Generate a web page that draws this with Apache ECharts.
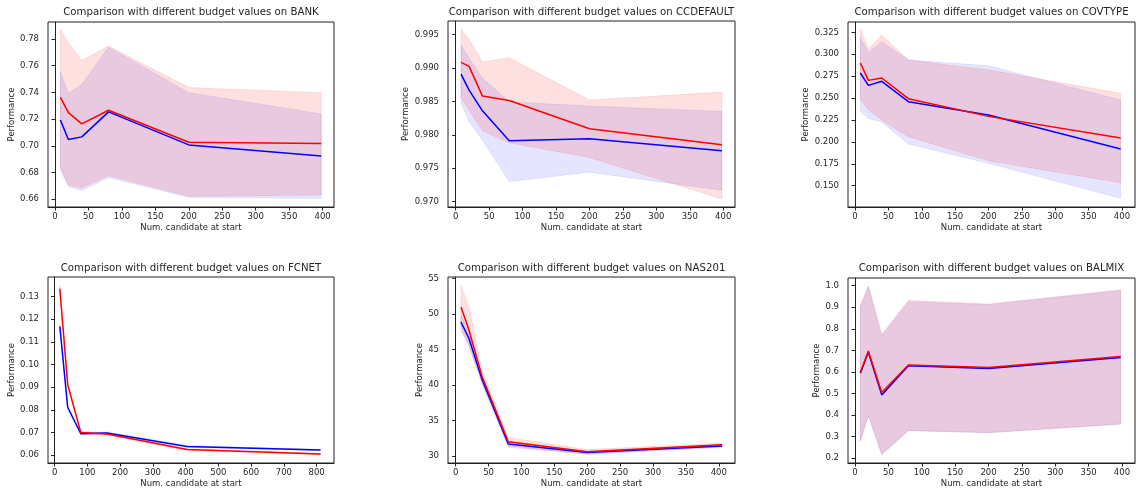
<!DOCTYPE html>
<html>
<head>
<meta charset="utf-8">
<script src="https://cdn.jsdelivr.net/npm/echarts@6/dist/echarts.min.js"></script>
<style>
html, body { margin: 0; padding: 0; background: #fff; }
#chart { width: 1136px; height: 490px; }
</style>
</head>
<body>
<div id="chart"></div>
<script>
// ---- data ----
var names = ['BANK', 'CCDEFAULT', 'COVTYPE', 'FCNET', 'NAS201', 'BALMIX'];

var bankX = [8, 20, 40, 80, 200, 398];
var bankRed = [0.7363, 0.7249, 0.7164, 0.7266, 0.7027, 0.7017];
var bankRedLo = [0.6835, 0.6707, 0.6687, 0.6777, 0.6622, 0.6632];
var bankRedHi = [0.7872, 0.7770, 0.7638, 0.7748, 0.7436, 0.7398];
var bankBlue = [0.7194, 0.7047, 0.7067, 0.7254, 0.7007, 0.6924];
var bankBlueLo = [0.6820, 0.6695, 0.6665, 0.6762, 0.6615, 0.6607];
var bankBlueHi = [0.7555, 0.7393, 0.7460, 0.7738, 0.7398, 0.7239];

var ccX = [8, 20, 40, 80, 200, 398];
var ccRed = [0.99085, 0.99025, 0.9858, 0.98515, 0.9809, 0.9785];
var ccRedLo = [0.9856, 0.9837, 0.9806, 0.9788, 0.9766, 0.9704];
var ccRedHi = [0.9958, 0.99435, 0.9909, 0.99155, 0.9852, 0.9864];
var ccBlue = [0.9891, 0.9867, 0.9836, 0.9791, 0.9794, 0.9776];
var ccBlueLo = [0.9848, 0.9820, 0.9792, 0.9730, 0.9744, 0.9717];
var ccBlueHi = [0.99345, 0.99145, 0.9885, 0.98495, 0.9843, 0.9835];

var covX = [8, 20, 40, 80, 200, 398];
var covRed = [0.2900, 0.2702, 0.2729, 0.2493, 0.2291, 0.2044];
var covRedLo = [0.2489, 0.2364, 0.2250, 0.2060, 0.1785, 0.1534];
var covRedHi = [0.3288, 0.3056, 0.3220, 0.2934, 0.2820, 0.2554];
var covBlue = [0.2786, 0.2645, 0.2691, 0.2459, 0.2307, 0.1919];
var covBlueLo = [0.2352, 0.2268, 0.2227, 0.1976, 0.1755, 0.1356];
var covBlueHi = [0.3193, 0.3022, 0.3140, 0.2934, 0.2870, 0.2478];

var fcX = [16, 40, 80, 160, 404, 812];
var fcRed = [0.1335, 0.0911, 0.0700, 0.0693, 0.0624, 0.0604];
var fcRedLo = [0.1320, 0.0902, 0.0695, 0.0688, 0.0620, 0.0601];
var fcRedHi = [0.1350, 0.0920, 0.0705, 0.0698, 0.0628, 0.0607];
var fcBlue = [0.1169, 0.0811, 0.0694, 0.0697, 0.0638, 0.0622];
var fcBlueLo = [0.1160, 0.0804, 0.0689, 0.0692, 0.0634, 0.0619];
var fcBlueHi = [0.1178, 0.0818, 0.0699, 0.0702, 0.0642, 0.0625];

var nasX = [8, 20, 40, 80, 200, 405];
var nasRed = [51.0, 47.8, 41.2, 32.0, 30.6, 31.6];
var nasRedLo = [48.2, 45.5, 40.3, 31.2, 30.3, 31.3];
var nasRedHi = [54.1, 51.0, 42.0, 32.6, 30.9, 31.8];
var nasBlue = [48.9, 46.6, 40.8, 31.7, 30.5, 31.4];
var nasBlueLo = [47.6, 45.6, 40.2, 31.4, 30.2, 31.2];
var nasBlueHi = [49.9, 47.3, 41.2, 32.0, 30.7, 31.6];

var balX = [8, 20, 40, 80, 200, 398];
var balRed = [0.597, 0.697, 0.504, 0.632, 0.620, 0.671];
var balRedLo = [0.280, 0.398, 0.218, 0.328, 0.318, 0.358];
var balRedHi = [0.906, 1.000, 0.775, 0.932, 0.915, 0.981];
var balBlue = [0.594, 0.691, 0.493, 0.628, 0.615, 0.667];
var balBlueLo = [0.277, 0.396, 0.215, 0.327, 0.317, 0.357];
var balBlueHi = [0.903, 0.995, 0.768, 0.926, 0.912, 0.978];

// tick labels
var xTicks400 = [0, 50, 100, 150, 200, 250, 300, 350, 400];
var xTicks800 = [0, 100, 200, 300, 400, 500, 600, 700, 800];
var bankTicks = [0.66, 0.68, 0.70, 0.72, 0.74, 0.76, 0.78];
var ccTicks = [0.970, 0.975, 0.980, 0.985, 0.990, 0.995];
var covTicks = [0.150, 0.175, 0.200, 0.225, 0.250, 0.275, 0.300, 0.325];
var fcTicks = [0.06, 0.07, 0.08, 0.09, 0.10, 0.11, 0.12, 0.13];
var nasTicks = [30, 35, 40, 45, 50, 55];
var balTicks = [0.2, 0.3, 0.4, 0.5, 0.6, 0.7, 0.8, 0.9, 1.0];

// ---- layout ----
var panels = [
  { x: bankX, r: bankRed, rlo: bankRedLo, rhi: bankRedHi, b: bankBlue, blo: bankBlueLo, bhi: bankBlueHi, xt: xTicks400, yt: bankTicks, dec: 2 },
  { x: ccX, r: ccRed, rlo: ccRedLo, rhi: ccRedHi, b: ccBlue, blo: ccBlueLo, bhi: ccBlueHi, xt: xTicks400, yt: ccTicks, dec: 3 },
  { x: covX, r: covRed, rlo: covRedLo, rhi: covRedHi, b: covBlue, blo: covBlueLo, bhi: covBlueHi, xt: xTicks400, yt: covTicks, dec: 3 },
  { x: fcX, r: fcRed, rlo: fcRedLo, rhi: fcRedHi, b: fcBlue, blo: fcBlueLo, bhi: fcBlueHi, xt: xTicks800, yt: fcTicks, dec: 2 },
  { x: nasX, r: nasRed, rlo: nasRedLo, rhi: nasRedHi, b: nasBlue, blo: nasBlueLo, bhi: nasBlueHi, xt: xTicks400, yt: nasTicks, dec: 0 },
  { x: balX, r: balRed, rlo: balRedLo, rhi: balRedHi, b: balBlue, blo: balBlueLo, bhi: balBlueHi, xt: xTicks400, yt: balTicks, dec: 1 }
];
// [left, top, width, height]
var boxes = [
  [48, 22, 286, 185], [448, 21, 287, 186], [848, 22, 287, 185],
  [48, 277, 286, 186], [448, 277, 287, 186], [848, 278, 287, 185]
];
// [xmin, xmax, ymin, ymax]
var ranges = [
  [-10.5, 417, 0.6542, 0.7927],
  [-11.5, 417.6, 0.96919, 0.99705],
  [-10.5, 419.5, 0.1257, 0.3368],
  [-20.1, 853, 0.05646, 0.1387],
  [-11.7, 424.6, 29.01, 55.24],
  [-10.5, 419.5, 0.1768, 1.0357]
];
var yNameGaps = [27, 32, 32, 27, 18, 21];

var FONT = 'DejaVu Sans';
var TXT = '#262626';
var RED = '#ff0000', BLUE = '#0000ff';
var RED_FILL = 'rgba(255,0,0,0.12)', BLUE_FILL = 'rgba(0,0,255,0.10)';

function pairs(xs, ys) {
  return xs.map(function (x, i) { return [x, ys[i]]; });
}

// one polygon per band: upper edge left->right, lower edge right->left
function bandSeries(i, xs, lo, hi, color) {
  return {
    type: 'custom', xAxisIndex: i, yAxisIndex: i, silent: true,
    data: xs.map(function (x, k) { return [x, lo[k], hi[k]]; }),
    encode: { x: 0, y: [1, 2] },
    renderItem: function (params, api) {
      if (params.dataIndex !== 0) return null;
      var pts = [];
      for (var k = 0; k < xs.length; k++) pts.push(api.coord([xs[k], hi[k]]));
      for (var k2 = xs.length - 1; k2 >= 0; k2--) pts.push(api.coord([xs[k2], lo[k2]]));
      return { type: 'polygon', shape: { points: pts },
        style: { fill: color, stroke: color, lineWidth: 0.8 } };
    }
  };
}

var grids = [], xAxes = [], yAxes = [], series = [], texts = [];

panels.forEach(function (p, i) {
  var b = boxes[i], rg = ranges[i];
  grids.push({ left: b[0], top: b[1], width: b[2], height: b[3], show: true,
    borderColor: '#222', borderWidth: 1, backgroundColor: 'transparent' });

  xAxes.push({
    gridIndex: i, type: 'value', min: rg[0], max: rg[1],
    name: 'Num. candidate at start', nameLocation: 'middle', nameGap: 16,
    nameTextStyle: { fontFamily: FONT, fontSize: 8.5, color: TXT },
    axisLine: { show: true, lineStyle: { color: '#222', width: 1 } },
    axisTick: { show: true, length: 3.5, lineStyle: { color: '#222' }, customValues: p.xt },
    axisLabel: { fontFamily: FONT, fontSize: 8.5, color: TXT, margin: 5, customValues: p.xt },
    splitLine: { show: false }
  });
  yAxes.push({
    gridIndex: i, type: 'value', min: rg[2], max: rg[3],
    name: 'Performance', nameLocation: 'middle', nameGap: yNameGaps[i],
    nameTextStyle: { fontFamily: FONT, fontSize: 8.5, color: TXT },
    axisLine: { show: true, lineStyle: { color: '#222', width: 1 } },
    axisTick: { show: true, length: 3.5, lineStyle: { color: '#222' }, customValues: p.yt },
    axisLabel: { fontFamily: FONT, fontSize: 8.5, color: TXT, margin: 9, customValues: p.yt,
      formatter: (function (d) { return function (v) { return v.toFixed(d); }; })(p.dec) },
    splitLine: { show: false }
  });

  series.push(bandSeries(i, p.x, p.blo, p.bhi, BLUE_FILL));
  series.push(bandSeries(i, p.x, p.rlo, p.rhi, RED_FILL));
  series.push({ type: 'line', xAxisIndex: i, yAxisIndex: i, symbol: 'none', silent: true,
    lineStyle: { color: BLUE, width: 1.5 }, data: pairs(p.x, p.b) });
  series.push({ type: 'line', xAxisIndex: i, yAxisIndex: i, symbol: 'none', silent: true,
    lineStyle: { color: RED, width: 1.5 }, data: pairs(p.x, p.r) });

  texts.push({ type: 'text', x: b[0] + b[2] / 2, y: i < 3 ? 12.5 : 268.5,
    style: { text: 'Comparison with different budget values on ' + names[i],
      font: '10.2px "' + FONT + '"', fill: TXT, align: 'center', verticalAlign: 'middle' } });
});

var chart = echarts.init(document.getElementById('chart'));
chart.setOption({
  animation: false,
  backgroundColor: '#fff',
  grid: grids,
  xAxis: xAxes,
  yAxis: yAxes,
  series: series,
  graphic: texts
});
</script>
</body>
</html>
